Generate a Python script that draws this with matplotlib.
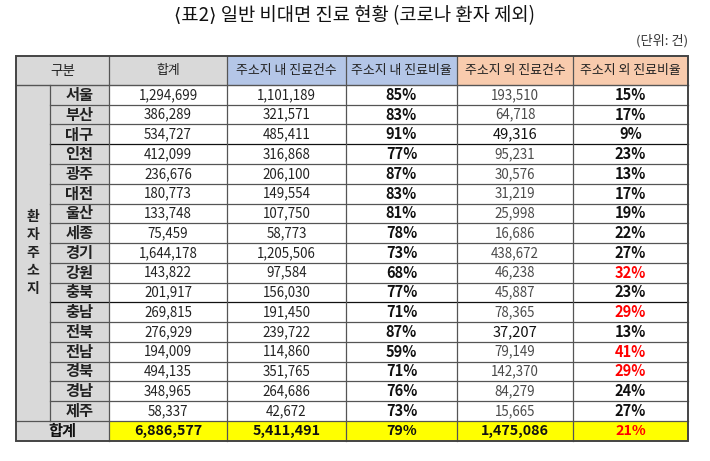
import matplotlib.pyplot as plt
from matplotlib.patches import Rectangle

plt.rcParams['font.family'] = ['Noto Sans CJK KR', 'DejaVu Sans']

title = '⟨표2⟩ 일반 비대면 진료 현황 (코로나 환자 제외)'
unit = '(단위: 건)'
headers = ['구분', '합계', '주소지 내 진료건수', '주소지 내 진료비율', '주소지 외 진료건수', '주소지 외 진료비율']
group_label = '환자주소지'
regions = ['서울', '부산', '대구', '인천', '광주', '대전', '울산', '세종', '경기',
           '강원', '충북', '충남', '전북', '전남', '경북', '경남', '제주']
total = [1294699, 386289, 534727, 412099, 236676, 180773, 133748, 75459, 1644178,
         143822, 201917, 269815, 276929, 194009, 494135, 348965, 58337]
inside = [1101189, 321571, 485411, 316868, 206100, 149554, 107750, 58773, 1205506,
          97584, 156030, 191450, 239722, 114860, 351765, 264686, 42672]
inside_pct = [85, 83, 91, 77, 87, 83, 81, 78, 73, 68, 77, 71, 87, 59, 71, 76, 73]
outside = [193510, 64718, 49316, 95231, 30576, 31219, 25998, 16686, 438672,
           46238, 45887, 78365, 37207, 79149, 142370, 84279, 15665]
outside_pct = [15, 17, 9, 23, 13, 17, 19, 22, 27, 32, 23, 29, 13, 41, 29, 24, 27]
sum_label = '합계'
sums = [6886577, 5411491, 79, 1475086, 21]

# layout (pixels)
W, H = 710, 461
xs = [16, 50, 109, 227, 346, 457, 573, 688]
y_head, y0, rh = 56, 85, 19.75
y_end = y0 + rh * (len(regions) + 1)

GRAY = '#d9d9d9'
BLUE = '#b4c6e7'
ORANGE = '#f8cbad'
YELLOW = '#ffff00'
RED = '#ff0000'

fig = plt.figure(figsize=(W / 100, H / 100), dpi=100)
ax = fig.add_axes([0, 0, 1, 1])
ax.set_xlim(0, W)
ax.set_ylim(H, 0)
ax.axis('off')


def cell(x1, x2, y1, y2, color):
    ax.add_patch(Rectangle((x1, y1), x2 - x1, y2 - y1, facecolor=color, edgecolor='none', zorder=1))


def txt(x, y, s, size=9, weight='normal', color='#222222'):
    ax.text(x, y, s, ha='center', va='center', fontsize=size, fontweight=weight, color=color, zorder=3)


# title
txt(W / 2, 16, title, size=13.5, color='#111111')
ax.text(xs[-1], 41, unit, ha='right', va='center', fontsize=9.5, color='#333333')

# header
head_colors = [GRAY, GRAY, BLUE, BLUE, ORANGE, ORANGE]
cell(xs[0], xs[2], y_head, y0, GRAY)
txt((xs[0] + xs[2]) / 2, (y_head + y0) / 2, headers[0], size=9.8)
for j in range(1, 6):
    cell(xs[j + 1], xs[j + 2], y_head, y0, head_colors[j])
    txt((xs[j + 1] + xs[j + 2]) / 2, (y_head + y0) / 2, headers[j], size=9.3)

# left group column
cell(xs[0], xs[2], y0, y_end, GRAY)
yc = y0 + rh * len(regions) / 2
for k, ch in enumerate(group_label):
    txt((xs[0] + xs[1]) / 2, yc + (k - 2) * 18, ch, size=10, weight='bold')

# data rows
for i, name in enumerate(regions):
    y1 = y0 + i * rh
    ym = y1 + rh / 2
    for j in range(2, 7):
        cell(xs[j], xs[j + 1], y1, y1 + rh, 'white')
    cx = [(xs[j] + xs[j + 1]) / 2 for j in range(len(xs) - 1)]
    txt(cx[1], ym, name, size=11, weight='bold')
    txt(cx[2], ym, f'{total[i]:,}', size=9.6)
    txt(cx[3], ym, f'{inside[i]:,}', size=9.6)
    txt(cx[4], ym, f'{inside_pct[i]}%', size=10.5, weight='bold', color='#111111')
    if name in ('대구', '전북'):
        txt(cx[5], ym, f'{outside[i]:,}', size=10.5, color='#111111')
    else:
        txt(cx[5], ym, f'{outside[i]:,}', size=9.6, color='#4a4a4a')
    pct_color = RED if outside_pct[i] >= 29 else '#111111'
    txt(cx[6], ym, f'{outside_pct[i]}%', size=10.5, weight='bold', color=pct_color)

# total row
yt = y0 + len(regions) * rh
ym = yt + rh / 2
cell(xs[0], xs[2], yt, y_end, GRAY)
txt((xs[0] + xs[2]) / 2, ym, sum_label, size=11, weight='bold', color='#111111')
for j in range(2, 7):
    cell(xs[j], xs[j + 1], yt, y_end, YELLOW)
for j, v in enumerate(sums):
    s = f'{v}%' if j in (2, 4) else f'{v:,}'
    c = RED if j == 4 else '#111111'
    txt((xs[j + 2] + xs[j + 3]) / 2, ym, s, size=10.3, weight='bold', color=c)

# grid lines
lc = '#555555'
ax.plot([xs[0], xs[-1]], [y0, y0], color=lc, lw=1.0, zorder=2)
for i in range(1, len(regions) + 1):
    y = y0 + i * rh
    dark = i in (3, 11)
    ax.plot([xs[1], xs[-1]], [y, y], color='#111111' if dark else lc, lw=0.9, zorder=2)
ax.plot([xs[0], xs[1]], [yt, yt], color=lc, lw=0.9, zorder=2)
ax.plot([xs[1], xs[1]], [y0, yt], color=lc, lw=0.9, zorder=2)
for j in range(2, len(xs) - 1):
    ax.plot([xs[j], xs[j]], [y_head, y_end], color=lc, lw=0.9, zorder=2)
ax.add_patch(Rectangle((xs[0], y_head), xs[-1] - xs[0], y_end - y_head,
                       facecolor='none', edgecolor='#444444', lw=1.4, zorder=4))

fig.savefig('out.png', dpi=100)
